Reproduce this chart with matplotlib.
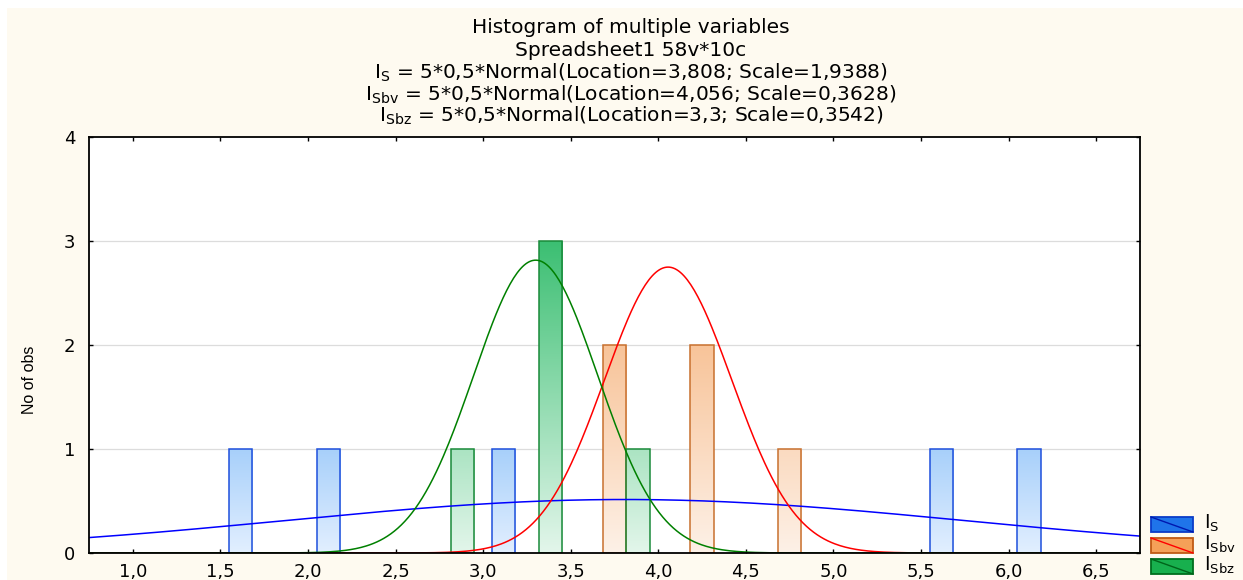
import numpy as np
import matplotlib
matplotlib.use("Agg")
import matplotlib.pyplot as plt
from matplotlib.patches import Rectangle
from matplotlib.lines import Line2D

# ---------------- data ----------------
bin_starts = [1.5, 2.0, 2.5, 3.0, 3.5, 4.0, 4.5, 5.0, 5.5, 6.0]
bin_width = 0.5
counts_S = [1, 1, 0, 1, 0, 0, 0, 0, 1, 1]
counts_Sbv = [0, 0, 0, 0, 2, 2, 1, 0, 0, 0]
counts_Sbz = [0, 0, 1, 3, 1, 0, 0, 0, 0, 0]

n_obs = 5
loc_S, scale_S = 3.808, 1.9388
loc_Sbv, scale_Sbv = 4.056, 0.3628
loc_Sbz, scale_Sbz = 3.3, 0.3542

xticks = [1.0, 1.5, 2.0, 2.5, 3.0, 3.5, 4.0, 4.5, 5.0, 5.5, 6.0, 6.5]
xtick_labels = ["1,0", "1,5", "2,0", "2,5", "3,0", "3,5", "4,0", "4,5", "5,0", "5,5", "6,0", "6,5"]
yticks = [0, 1, 2, 3, 4]

title_lines = [
    "Histogram of multiple variables",
    "Spreadsheet1 58v*10c",
    r"I$_{\mathregular{S}}$ = 5*0,5*Normal(Location=3,808; Scale=1,9388)",
    r"I$_{\mathregular{Sbv}}$ = 5*0,5*Normal(Location=4,056; Scale=0,3628)",
    r"I$_{\mathregular{Sbz}}$ = 5*0,5*Normal(Location=3,3; Scale=0,3542)",
]
legend_labels = [r"I$_{\mathregular{S}}$", r"I$_{\mathregular{Sbv}}$", r"I$_{\mathregular{Sbz}}$"]

# ---------------- fonts ----------------
wide = ['DejaVu Sans']
plt.rcParams['font.family'] = wide

W, H = 1243, 580
fig = plt.figure(figsize=(W / 100, H / 100), dpi=100)
fig.patch.set_facecolor("white")
cream = "#fefaf0"
fig.add_artist(Rectangle((7 / W, 0), 1, 1 - 8 / H, transform=fig.transFigure,
                         facecolor=cream, edgecolor="none", zorder=-10))

ax_l, ax_r, ax_b, ax_t = 89, 1140, 553, 137
ax = fig.add_axes([ax_l / W, 1 - ax_b / H, (ax_r - ax_l) / W, (ax_b - ax_t) / H])
ax.set_facecolor("white")
ax.set_xlim(0.75, 6.75)
ax.set_ylim(0, 4)

# gridlines
for yv in yticks[1:-1]:
    ax.axhline(yv, color="#dcdcdc", lw=0.9, zorder=0)

# gradient colours: value at y=0 (light) and y=3 (strong)
series = [
    (counts_S, (0.886, 0.937, 1.0), (0.20, 0.57, 0.94), "#1e50dc", 0.05),
    (counts_Sbv, (0.992, 0.945, 0.906), (0.963, 0.68, 0.45), "#c8702e", 0.05 + 0.1333),
    (counts_Sbz, (0.89, 0.965, 0.92), (0.235, 0.75, 0.45), "#1a8a3a", 0.05 + 0.2667),
]
bar_w = 0.1333
for counts, c0, c1, ec, off in series:
    c0 = np.array(c0); c1 = np.array(c1)
    for bs, cnt in zip(bin_starts, counts):
        if cnt <= 0:
            continue
        x0 = bs + off
        ys = np.linspace(0, cnt, 100)
        t = np.clip(ys / 3.0, 0, 1)[:, None]
        col = c0 * (1 - t) + c1 * t
        img = col[:, None, :]
        ax.imshow(img, extent=[x0, x0 + bar_w, 0, cnt], origin="lower",
                  aspect="auto", interpolation="bilinear", zorder=1)
        ax.add_patch(Rectangle((x0, 0), bar_w, cnt, facecolor="none",
                               edgecolor=ec, lw=1.1, zorder=2))

ax.set_xlim(0.75, 6.75)
ax.set_ylim(0, 4)

# fitted normal curves
xs = np.linspace(0.75, 6.75, 600)
def normal_curve(loc, scale):
    return n_obs * bin_width * np.exp(-0.5 * ((xs - loc) / scale) ** 2) / (scale * np.sqrt(2 * np.pi))

ax.plot(xs, normal_curve(loc_S, scale_S), color="#0000ff", lw=1.1, zorder=3)
ax.plot(xs, normal_curve(loc_Sbv, scale_Sbv), color="#ff0000", lw=1.1, zorder=3)
ax.plot(xs, normal_curve(loc_Sbz, scale_Sbz), color="#008000", lw=1.1, zorder=3)

# axes styling
for s in ax.spines.values():
    s.set_color("black")
    s.set_linewidth(1.3)
    s.set_zorder(5)
ax.set_xticks(xticks)
ax.set_xticklabels(xtick_labels)
ax.set_yticks(yticks)
ax.tick_params(direction="in", length=3, width=1, top=True, right=True,
               labelsize=13, colors="black")
ax.tick_params(axis="x", pad=7)
ax.tick_params(axis="y", pad=10)

fig.text(30 / W, 1 - 380 / H, "No of obs", rotation=90, ha="center", va="center",
         fontsize=11.5, family=['Liberation Sans', 'DejaVu Sans'])

# title
title_base = [33, 56, 78.5, 100.5, 122]
for line, yy in zip(title_lines, title_base):
    fig.text(631 / W, 1 - yy / H, line, ha="center", va="baseline", fontsize=14.5)

# legend (drawn manually)
leg = [
    ("#1f74ea", "#0a3cc8", "#0018b0"),
    ("#f5a058", "#c05a14", "#ff0000"),
    ("#18b04e", "#006e1e", "#00641a"),
]
leg_y = [517, 538, 559]
for (fc, ec, dc), yy, lab in zip(leg, leg_y, legend_labels):
    x0, x1 = 1151, 1193
    y0, y1 = yy, yy + 15
    fig.add_artist(Rectangle((x0 / W, 1 - y1 / H), (x1 - x0) / W, (y1 - y0) / H,
                             transform=fig.transFigure, facecolor=fc, edgecolor=ec, lw=1.3))
    fig.add_artist(Line2D([x0 / W, x1 / W], [1 - y0 / H, 1 - y1 / H],
                          transform=fig.transFigure, color=dc, lw=1.0))
    fig.text(1204 / W, 1 - (yy + 12) / H, lab, ha="left", va="baseline", fontsize=13.5)

fig.savefig("out.png", dpi=100, facecolor=fig.get_facecolor())
